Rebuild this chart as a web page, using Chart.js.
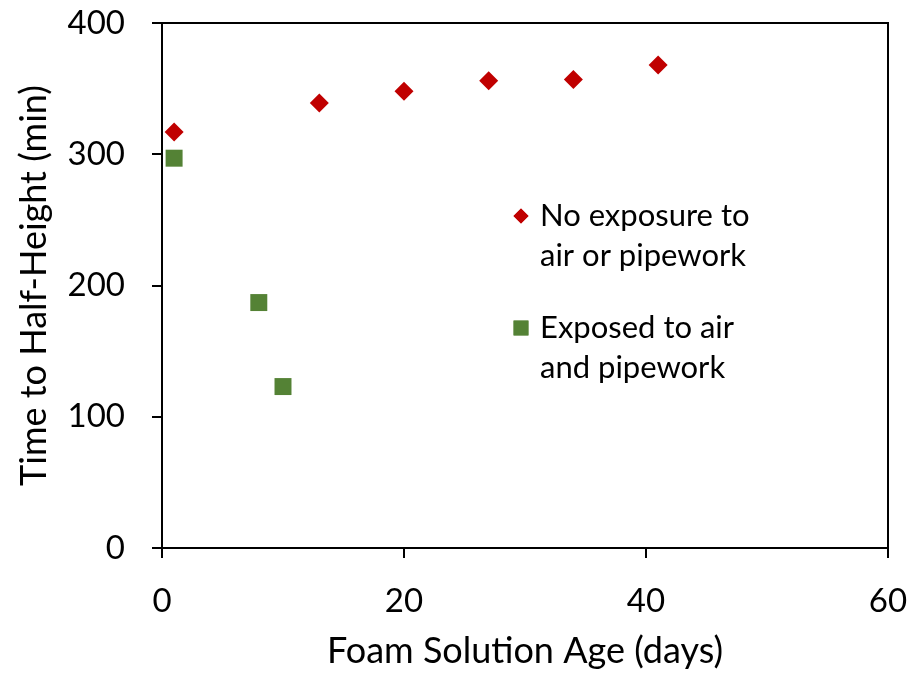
<!DOCTYPE html>
<html lang="en">
<head>
  <meta charset="UTF-8">
  <title>Foam Half-Height Time</title>
  <script src="https://cdn.jsdelivr.net/npm/chart.js"></script>
  <style>
    body { margin: 0; background: #ffffff; }
    #wrap { width: 912px; height: 673px; }
  </style>
</head>
<body>
  <div id="wrap"><canvas id="foamChart" width="912" height="673"></canvas></div>

  <script>
    // No exposure to air or pipework
    const ageNoExposure = [1, 13, 20, 27, 34, 41];
    const timeNoExposure = [317, 339, 348, 356, 357, 368];

    // Exposed to air and pipework
    const ageExposed = [1, 8, 10];
    const timeExposed = [297, 187, 123];

    const legendLabels = [
      ['No exposure to', 'air or pipework'],
      ['Exposed to air', 'and pipework']
    ];

    const FONT = 'Lato, "Open Sans", sans-serif';

    // box round the plot + legend inside the plot area
    const frameAndLegend = {
      id: 'frameAndLegend',
      afterDraw(chart) {
        const ctx = chart.ctx;
        const a = chart.chartArea;
        ctx.save();
        ctx.strokeStyle = '#000';
        ctx.lineWidth = 2;
        ctx.beginPath();
        ctx.moveTo(a.left, a.top);
        ctx.lineTo(a.right, a.top);
        ctx.lineTo(a.right, a.bottom);
        ctx.stroke();

        const items = [
          { y: 226, style: 'rectRot', r: 7.5, color: '#c00000' },
          { y: 338, style: 'rect', r: 10.5, color: '#548235' }
        ];
        ctx.font = '31px ' + FONT;
        ctx.textBaseline = 'alphabetic';
        items.forEach((it, i) => {
          ctx.fillStyle = it.color;
          Chart.helpers.drawPoint(ctx, { pointStyle: it.style, radius: it.r, rotation: 0, borderWidth: 0 }, 521, it.y - 10);
          ctx.fill();
          ctx.fillStyle = '#000';
          legendLabels[i].forEach((line, j) => {
            ctx.fillText(line, 540, it.y + j * 40);
          });
        });
        ctx.restore();
      }
    };

    new Chart(document.getElementById('foamChart'), {
      type: 'scatter',
      data: {
        datasets: [{
          label: 'No exposure to air or pipework',
          data: ageNoExposure.map((x, i) => ({ x: x, y: timeNoExposure[i] })),
          pointStyle: 'rectRot',
          pointRadius: 9.5,
          backgroundColor: '#c00000',
          borderColor: '#c00000',
          borderWidth: 0
        }, {
          label: 'Exposed to air and pipework',
          data: ageExposed.map((x, i) => ({ x: x, y: timeExposed[i] })),
          pointStyle: 'rect',
          pointRadius: 12,
          backgroundColor: '#548235',
          borderColor: '#548235',
          borderWidth: 0
        }]
      },
      options: {
        responsive: false,
        animation: false,
        layout: { padding: { left: 9, top: 23, right: 24, bottom: 0 } },
        plugins: {
          legend: { display: false },
          tooltip: { enabled: false }
        },
        scales: {
          x: {
            type: 'linear',
            min: 0,
            max: 60,
            ticks: { stepSize: 20, color: '#000', padding: 24, font: { family: FONT, size: 33 } },
            grid: { drawOnChartArea: false, color: '#000', lineWidth: 2, tickLength: 10 },
            border: { color: '#000', width: 2 },
            title: { display: true, text: 'Foam Solution Age (days)', color: '#000', padding: { top: 4, bottom: 0 }, font: { family: FONT, size: 36 } },
            afterFit(scale) {
              scale.height = 125;
              scale.paddingLeft = 0;
              scale.paddingRight = 0;
            }
          },
          y: {
            min: 0,
            max: 400,
            ticks: { stepSize: 100, color: '#000', padding: 27, font: { family: FONT, size: 33 } },
            grid: { drawOnChartArea: false, color: '#000', lineWidth: 2, tickLength: 10 },
            border: { color: '#000', width: 2 },
            title: { display: true, text: 'Time to Half-Height (min)', color: '#000', padding: { top: 4, bottom: 0 }, font: { family: FONT, size: 36 } },
            afterFit(scale) {
              scale.width = 153;
              scale.paddingTop = 0;
              scale.paddingBottom = 0;
            }
          }
        }
      },
      plugins: [frameAndLegend]
    });
  </script>
</body>
</html>
